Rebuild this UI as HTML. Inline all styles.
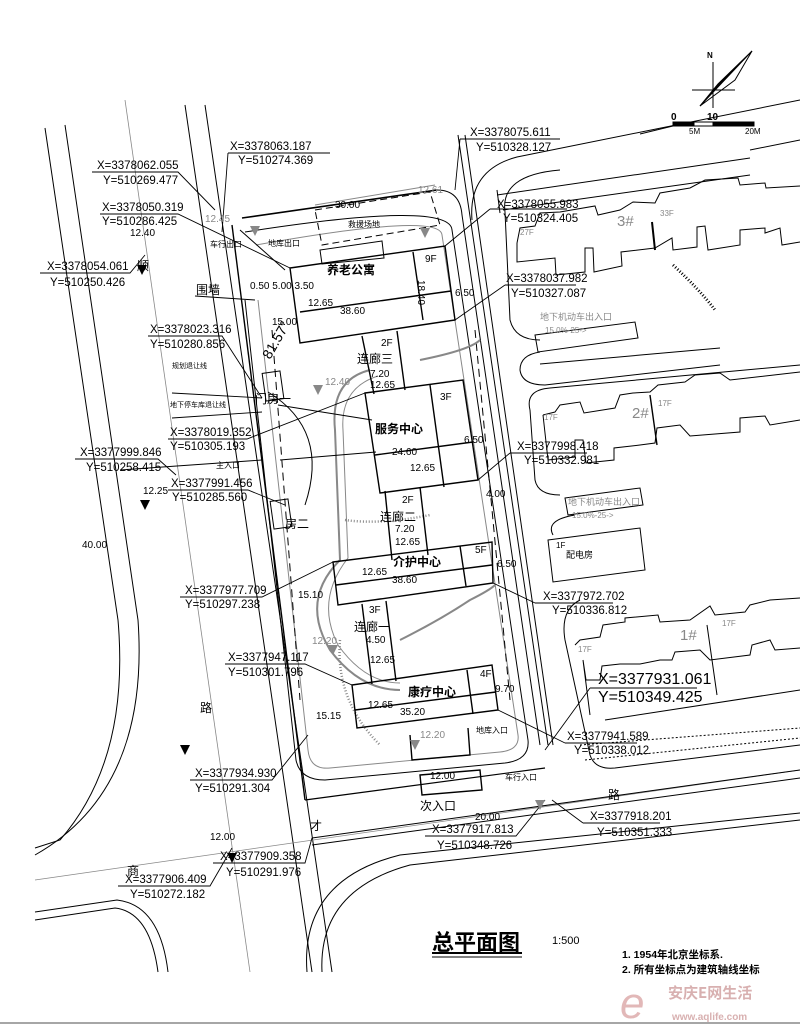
<!DOCTYPE html>
<html><head><meta charset="utf-8"><style>
html,body{margin:0;padding:0;background:#fff}
svg{display:block}
text{font-family:"Liberation Sans","Noto Sans CJK SC",sans-serif;fill:#000}
.c{font-size:11.5px}
.s{font-size:10px}
.z{font-family:"Noto Sans CJK SC",sans-serif;font-size:12px}
.g{fill:#888}
</style></head><body>
<svg width="800" height="1031" viewBox="0 0 800 1031" xmlns="http://www.w3.org/2000/svg" fill="none" stroke="#000" stroke-width="1">
<!-- left road -->
<path d="M45,128 L118,620 Q130,760 60,840 L35,848"/>
<path d="M65,125 L138,620 Q150,790 35,855"/>
<path d="M125,100 L250,972" stroke="#888" stroke-width="0.8"/>
<path d="M185,105 L312,972"/>
<path d="M205,105 L332,972"/>
<path d="M35,880 L800,770" stroke="#888" stroke-width="0.8"/>
<path d="M35,912 L117,900 Q160,905 168,972"/>
<path d="M35,920 L115,908 Q150,912 158,972"/>
<path d="M307,972 Q300,880 400,855 L800,813"/>
<path d="M322,972 Q318,890 410,865 L800,820"/>
<path d="M312,838 L800,770"/>
<path d="M312,845 L800,778"/>
<!-- top road -->
<path d="M472,220 Q468,170 517,157 L800,100"/>
<path d="M640,134 L673,126"/>
<path d="M458,135 L548,745"/>
<path d="M465,135 L553,745"/>
<!-- site boundary -->
<path d="M242,218 L437,190" stroke-width="1.6"/>
<path d="M232,225 L305,800" stroke-width="1.4"/>
<path d="M305,800 L545,768" stroke-width="1.2"/>
<path d="M437,190 Q460,190 462,215 L540,745"/>
<path d="M245,232 Q450,200 452,230 L528,740 Q530,760 505,763 L325,780 Q300,780 296,760 L245,300"/>
<path d="M256,245 Q440,212 442,235 L518,735 Q520,750 500,752 L330,768 Q310,770 308,750 L258,300" stroke="#888"/>
<path d="M272,330 L300,700" stroke-dasharray="8,5"/>
<path d="M475,330 L510,700" stroke-dasharray="8,5"/>
<path d="M285,270 L240,230"/>
<!-- rescue area dashed -->
<path d="M315,210 L430,192 L440,225 L322,245 Z" stroke-dasharray="7,4"/>
<path d="M315,205 L435,185" stroke="#888"/>
<!-- courtyard grey loop -->
<path d="M370,370 Q330,380 335,430 L340,560 Q300,600 330,650 Q360,690 400,690" stroke="#888" stroke-width="2"/>
<path d="M378,376 Q340,388 343,430 L348,558 Q315,600 338,645 Q365,683 400,683" stroke="#888"/>
<path d="M420,360 Q470,350 480,340" stroke="#888" stroke-width="2"/>
<path d="M400,640 Q440,620 470,600 Q490,590 495,585" stroke="#888" stroke-width="2"/>
<path d="M345,520 Q380,525 430,515" stroke="#888" stroke-width="2.5" stroke-dasharray="1,2"/>
<path d="M340,640 Q335,700 380,745" stroke="#888" stroke-width="2.5" stroke-dasharray="1,2"/>
<!-- gate semicircle -->
<path d="M268,392 Q330,430 305,505" />
<path d="M278,405 L372,420 M280,460 L376,452"/>
<!-- buildings -->
<g stroke-width="1.4">
<path d="M290,268 L445,246 L455,320 L300,343 Z"/>
<path d="M322,264 L320,250 L382,241 L384,258 Z" stroke-width="1"/>
<path d="M413,252 L423,320 M300,312 L451,291"/>
<path d="M365,393 L463,380 L478,480 L380,493 Z"/>
<path d="M375,455 L473,442 M430,385 L444,487"/>
<path d="M333,562 L492,542 L493,583 L338,605 Z"/>
<path d="M336,585 L492,565 M460,546 L466,586"/>
<path d="M352,685 L492,665 L498,710 L357,728 Z"/>
<path d="M355,710 L496,692 M467,670 L473,714"/>
<path d="M362,336 L374,394 M397,331 L405,390"/>
<path d="M385,491 L392,560 M420,487 L428,555"/>
<path d="M362,604 L372,684 M386,601 L396,681"/>
<path d="M410,735 L412,760 L470,755 L468,728"/>
<path d="M420,775 L480,770 L482,790 L422,795 Z"/>
</g>
<!-- gate houses -->
<rect x="264" y="372" width="18" height="28" transform="rotate(-8 273 386)"/>
<rect x="272" y="500" width="18" height="28" transform="rotate(-8 281 514)"/>
<!-- right residential -->
<g stroke-width="1">
<path d="M497,190 L500,213 M750,150 L800,140"/>
<path d="M497,195 L750,158 M503,210 L750,175"/>
<path d="M505,212 Q500,175 560,170 M505,212 L510,320 Q515,340 540,340"/>
<path d="M517,243 L520,228 L535,226 L540,213 L560,212 L595,206 L598,215 L620,210 L633,202 L655,203 L660,193 L690,188 L705,180 L738,178 L740,185 L765,183 L766,188 L800,186"/>
<path d="M517,243 L517,262 L555,258 L556,275 L585,272 L585,248 L593,248 L594,272 L622,266 L621,252 L655,248 L672,238 L673,250 L697,247 L697,227 L705,226 L708,250 L740,245 L740,230 L765,228 L765,233 L780,228 L782,245 L800,242"/>
<path d="M652,222 L655,250" stroke-width="2"/>
<path d="M535,335 L635,322 L638,338 L538,352 Z"/>
<path d="M540,352 Q520,355 520,370 Q522,385 545,385 L720,365 M540,364 L720,348"/>
<path d="M530,410 Q525,390 550,388 L800,365"/>
<path d="M530,410 L535,480 Q538,495 560,495"/>
<path d="M543,415 L555,412 L560,405 L580,402 L584,413 L615,408 L620,395 L633,393 L650,392 L658,385 L685,382 L695,375 L720,373 L730,380 L800,372"/>
<path d="M543,415 L548,460 L575,457 L575,440 L583,440 L586,463 L614,460 L614,448 L640,445 L655,443 L657,428 L680,425 L690,436 L740,432 L740,418 L765,416 L770,425 L800,420"/>
<path d="M650,395 L657,445" stroke-width="1.4"/>
<path d="M575,515 Q545,520 553,535 M565,498 L640,488 L643,505 L568,515 Z"/>
<path d="M548,540 L640,528 L645,570 L553,582 Z"/>
<path d="M580,600 Q560,610 565,640 L590,755 Q595,770 615,768 L800,745"/>
<path d="M575,645 L580,640 L600,637 L603,625 L625,622 L625,618 L658,615 L660,622 L690,620 L710,606 L715,615 L745,612 L750,605 L770,600 L800,598"/>
<path d="M583,660 L590,715 M583,660 L586,680 L600,680 L602,666 L620,664 L640,664 L660,660 L672,660 L675,652 L700,650 L710,660 L750,655 L752,645 L770,640 L775,650 L800,648"/>
<path d="M707,625 L717,695 M605,720 L800,690"/>
<path d="M580,745 L800,728 M585,760 L800,738" stroke-dasharray="2,2"/>
<path d="M673,265 Q700,290 715,310" stroke-width="3" stroke-dasharray="1,2"/>
</g>
<!-- leaders -->
<g stroke-width="0.9">
<path d="M228,153 L330,153 M228,153 L222,232"/>
<path d="M460,139 L560,139 M460,139 L455,190"/>
<path d="M92,172 L178,172 L215,210"/>
<path d="M100,214 L178,214 L290,268"/>
<path d="M40,273 L130,273 L145,255"/>
<path d="M490,209 L567,209 M490,209 L445,246"/>
<path d="M505,285 L576,285 M505,285 L455,320"/>
<path d="M148,336 L222,336 L262,398"/>
<path d="M168,439 L247,439 L365,393"/>
<path d="M75,459 L158,459 L176,475"/>
<path d="M168,490 L248,490 L285,505"/>
<path d="M510,453 L587,453 M510,453 L478,480"/>
<path d="M180,597 L262,597 L333,562"/>
<path d="M535,603 L613,603 M535,603 L493,583"/>
<path d="M225,664 L305,664 L352,685"/>
<path d="M590,688 L697,688 M590,688 L545,750"/>
<path d="M565,743 L637,743 M565,743 L498,710"/>
<path d="M190,780 L272,780 L308,735"/>
<path d="M583,823 L660,823 M583,823 L552,800"/>
<path d="M425,836 L516,836 L545,800"/>
<path d="M213,863 L305,863 L312,838"/>
<path d="M118,886 L210,886 L232,848"/>
<path d="M195,296 L255,300 M172,393 L262,398 M172,418 L262,412 M120,470 L262,460"/>
</g>
<!-- elevation markers -->
<g fill="#000" stroke="none">
<path d="M137,265 L147,265 L142,275 Z"/><path d="M180,745 L190,745 L185,755 Z"/>
<path d="M227,853 L237,853 L232,863 Z"/><path d="M140,500 L150,500 L145,510 Z"/>
</g>
<g fill="#888" stroke="none">
<path d="M250,226 L260,226 L255,236 Z"/><path d="M420,228 L430,228 L425,238 Z"/>
<path d="M313,385 L323,385 L318,395 Z"/><path d="M328,645 L338,645 L333,655 Z"/>
<path d="M410,740 L420,740 L415,750 Z"/><path d="M535,800 L545,800 L540,810 Z"/>
</g>
<!-- compass & scale -->
<path d="M700,106 L752,51 L718,84 Z" fill="#000"/>
<path d="M700,106 L752,51 L735,80 Z" fill="#fff"/>
<path d="M692,90 L735,90 M713,62 L713,108"/>
<rect x="673" y="122" width="21" height="4" fill="#000"/>
<rect x="694" y="122" width="19" height="4" fill="#fff"/>
<rect x="713" y="122" width="41" height="4" fill="#000"/>
<!-- title -->
<path d="M432,953 L522,953" stroke-width="2"/><path d="M432,957 L522,957"/>
<path d="M0,1023 L800,1023" stroke="#888" stroke-width="1.5"/>
<g stroke="none">
<text x="707" y="58" style="font-size:8px;font-weight:bold">N</text>
<text x="671" y="120" style="font-size:10px;font-weight:bold">0</text>
<text x="707" y="120" style="font-size:10px;font-weight:bold">10</text>
<text x="689" y="134" style="font-size:8px">5M</text>
<text x="745" y="134" style="font-size:8px">20M</text>
<text class="c" x="230" y="150">X=3378063.187</text><text class="c" x="238" y="164">Y=510274.369</text>
<text class="c" x="470" y="136">X=3378075.611</text><text class="c" x="476" y="151">Y=510328.127</text>
<text class="c" x="97" y="169">X=3378062.055</text><text class="c" x="103" y="184">Y=510269.477</text>
<text class="c" x="102" y="211">X=3378050.319</text><text class="c" x="102" y="225">Y=510286.425</text>
<text class="c" x="47" y="270">X=3378054.061</text><text class="c" x="50" y="286">Y=510250.426</text>
<text class="c" x="497" y="208">X=3378055.983</text><text class="c" x="503" y="222">Y=510324.405</text>
<text class="c" x="506" y="282">X=3378037.982</text><text class="c" x="511" y="297">Y=510327.087</text>
<text class="c" x="150" y="333">X=3378023.316</text><text class="c" x="150" y="348">Y=510280.856</text>
<text class="c" x="170" y="436">X=3378019.352</text><text class="c" x="170" y="450">Y=510305.193</text>
<text class="c" x="80" y="456">X=3377999.846</text><text class="c" x="86" y="471">Y=510258.415</text>
<text class="c" x="171" y="487">X=3377991.456</text><text class="c" x="172" y="501">Y=510285.560</text>
<text class="c" x="517" y="450">X=3377998.418</text><text class="c" x="524" y="464">Y=510332.981</text>
<text class="c" x="185" y="594">X=3377977.709</text><text class="c" x="185" y="608">Y=510297.238</text>
<text class="c" x="543" y="600">X=3377972.702</text><text class="c" x="552" y="614">Y=510336.812</text>
<text class="c" x="228" y="661">X=3377947.117</text><text class="c" x="228" y="676">Y=510301.796</text>
<text x="598" y="684" style="font-size:16px">X=3377931.061</text><text x="598" y="702" style="font-size:16px">Y=510349.425</text>
<text class="c" x="567" y="740">X=3377941.589</text><text class="c" x="574" y="754">Y=510338.012</text>
<text class="c" x="195" y="777">X=3377934.930</text><text class="c" x="195" y="792">Y=510291.304</text>
<text class="c" x="590" y="820">X=3377918.201</text><text class="c" x="597" y="836">Y=510351.333</text>
<text class="c" x="432" y="833">X=3377917.813</text><text class="c" x="437" y="849">Y=510348.726</text>
<text class="c" x="220" y="860">X=3377909.358</text><text class="c" x="226" y="876">Y=510291.976</text>
<text class="c" x="125" y="883">X=3377906.409</text><text class="c" x="130" y="898">Y=510272.182</text>
<text class="z" x="327" y="274" style="font-weight:bold">养老公寓</text>
<text class="s" x="308" y="306">12.65</text><text class="s" x="340" y="314">38.60</text>
<text class="s" x="425" y="262">9F</text><text class="s" x="418" y="280" transform="rotate(90 418 280)">18.40</text>
<text class="z" x="375" y="433" style="font-weight:bold">服务中心</text>
<text class="s" x="392" y="455">24.60</text><text class="s" x="410" y="471">12.65</text><text class="s" x="440" y="400">3F</text>
<text class="z" x="393" y="566" style="font-weight:bold">介护中心</text>
<text class="s" x="362" y="575">12.65</text><text class="s" x="392" y="583">38.60</text><text class="s" x="475" y="553">5F</text>
<text class="z" x="408" y="696" style="font-weight:bold">康疗中心</text>
<text class="s" x="368" y="708">12.65</text><text class="s" x="400" y="715">35.20</text><text class="s" x="480" y="677">4F</text>
<text class="z" x="357" y="363">连廊三</text><text class="s" x="370" y="377">7.20</text><text class="s" x="370" y="388">12.65</text><text class="s" x="381" y="346">2F</text>
<text class="z" x="380" y="521">连廊二</text><text class="s" x="395" y="532">7.20</text><text class="s" x="395" y="545">12.65</text><text class="s" x="402" y="503">2F</text>
<text class="z" x="354" y="631">连廊一</text><text class="s" x="366" y="643">4.50</text><text class="s" x="370" y="663">12.65</text><text class="s" x="369" y="613">3F</text>
<text class="z" x="196" y="294">围墙</text>
<text class="z" x="255" y="403">门房一</text><text class="z" x="285" y="528">房二</text>
<text class="z" x="137" y="270">顺</text><text class="z" x="200" y="712">路</text><text class="z" x="310" y="830">才</text><text class="z" x="127" y="875">商</text><text class="z" x="608" y="799">路</text>
<text x="268" y="246" style="font-size:8px">地库出口</text><text x="210" y="247" style="font-size:8px">车行出口</text>
<text x="348" y="227" style="font-size:8px">救援场地</text>
<text x="476" y="733" style="font-size:8px">地库入口</text><text x="505" y="780" style="font-size:8px">车行入口</text>
<text x="216" y="468" style="font-size:8px">主入口</text><text class="z" x="420" y="810">次入口</text>
<text x="172" y="368" style="font-size:7px">规划退让线</text><text x="170" y="407" style="font-size:7px">地下停车库退让线</text>
<text x="540" y="320" style="font-size:9px" class="g">地下机动车出入口</text><text x="545" y="333" style="font-size:8px" class="g">15.0%-25-&gt;</text>
<text x="568" y="505" style="font-size:9px" class="g">地下机动车出入口</text><text x="572" y="518" style="font-size:8px" class="g">15.0%-25-&gt;</text>
<text x="617" y="226" style="font-size:15px" class="g">3#</text><text x="660" y="216" style="font-size:8px" class="g">33F</text><text x="520" y="235" style="font-size:8px" class="g">27F</text>
<text x="632" y="418" style="font-size:15px" class="g">2#</text><text x="658" y="406" style="font-size:8px" class="g">17F</text><text x="544" y="420" style="font-size:8px" class="g">17F</text>
<text x="680" y="640" style="font-size:15px" class="g">1#</text><text x="722" y="626" style="font-size:8px" class="g">17F</text><text x="578" y="652" style="font-size:8px" class="g">17F</text>
<text x="556" y="548" style="font-size:8px">1F</text><text x="566" y="558" style="font-size:9px">配电房</text>
<text class="s g" x="418" y="193">12.61</text><text class="s g" x="205" y="222">12.45</text><text class="s" x="130" y="236">12.40</text>
<text class="s g" x="325" y="385">12.40</text><text class="s" x="143" y="494">12.25</text><text class="s" x="82" y="548">40.00</text>
<text class="s g" x="312" y="644">12.20</text><text class="s g" x="420" y="738">12.20</text><text class="s" x="210" y="840">12.00</text>
<text class="s" x="430" y="779">12.00</text><text class="s" x="475" y="820">20.00</text><text class="s" x="335" y="208">30.00</text>
<text class="s" x="272" y="325">15.00</text><text class="s" x="250" y="289">0.50 5.00 3.50</text><text class="s" x="298" y="598">15.10</text><text class="s" x="316" y="719">15.15</text>
<text class="s" x="455" y="296">6.50</text><text class="s" x="464" y="443">6.50</text><text class="s" x="486" y="497">4.00</text><text class="s" x="497" y="567">6.50</text><text class="s" x="495" y="692">9.70</text>
<text x="270" y="360" style="font-size:14px" transform="rotate(-60 270 360)">81.57°</text>
<text x="432" y="950" style="font-family:'Noto Sans CJK SC',sans-serif;font-size:22px;font-weight:bold">总平面图</text>
<text x="552" y="944" style="font-size:11px">1:500</text>
<text x="622" y="958" style="font-family:'Liberation Sans','Noto Sans CJK SC',sans-serif;font-size:10.5px;font-weight:bold">1. 1954年北京坐标系.</text>
<text x="622" y="973" style="font-family:'Liberation Sans','Noto Sans CJK SC',sans-serif;font-size:10.5px;font-weight:bold">2. 所有坐标点为建筑轴线坐标</text>
<text x="668" y="998" style="font-family:'Noto Sans CJK SC',sans-serif;font-size:15px;font-weight:bold;fill:#d8b0b0">安庆E网生活</text>
<text x="672" y="1020" style="font-size:10px;font-weight:bold;fill:#d8b0b0">www.aqlife.com</text>
<text x="620" y="1018" style="font-size:44px;font-style:italic;fill:#e2b8b8">e</text>
</g>
</svg>
</body></html>
